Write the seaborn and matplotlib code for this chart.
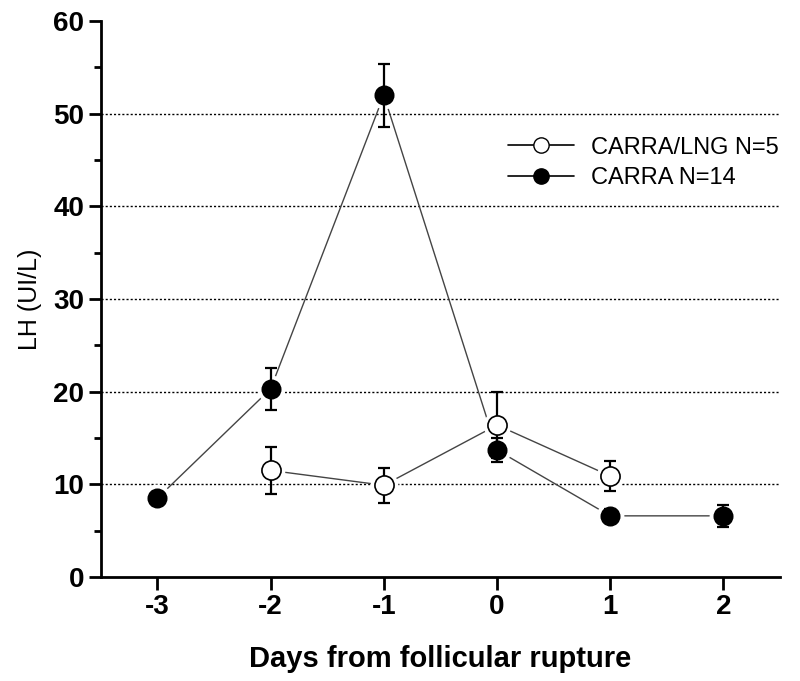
import matplotlib
matplotlib.use("Agg")
import matplotlib.pyplot as plt
import seaborn as sns
import pandas as pd
import numpy as np
from matplotlib.ticker import MultipleLocator
from matplotlib.lines import Line2D

# Data
days_carra = [-3, -2, -1, 0, 1, 2]
lh_carra = [8.5, 20.3, 52.0, 13.7, 6.6, 6.6]
err_carra = [0.7, 2.3, 3.4, 1.3, 0.7, 1.2]

days_lng = [-2, -1, 0, 1]
lh_lng = [11.5, 9.9, 16.4, 10.9]
err_lng = [2.5, 1.9, 3.6, 1.6]

label_lng = "CARRA/LNG N=5"
label_carra = "CARRA N=14"

sns.set_theme(style="ticks")
plt.rcParams['font.family'] = ['Liberation Sans', 'DejaVu Sans']
plt.rcParams['axes.unicode_minus'] = False
plt.rcParams['text.color'] = 'black'
plt.rcParams['axes.labelcolor'] = 'black'
plt.rcParams['xtick.color'] = 'black'
plt.rcParams['ytick.color'] = 'black'

df = pd.concat([
    pd.DataFrame({"day": days_carra, "lh": lh_carra, "group": label_carra}),
    pd.DataFrame({"day": days_lng, "lh": lh_lng, "group": label_lng}),
])

fig = plt.figure(figsize=(8, 6.81), dpi=100)
ax = fig.add_axes([0.126, 0.1527, 0.849, 0.8165])

# grid lines
for yv in [10, 20, 30, 40, 50]:
    ax.axhline(yv, color="black", linestyle=(0, (1.5, 1.5)), linewidth=1.0, zorder=1)

# connecting lines
sns.lineplot(data=df, x="day", y="lh", hue="group", palette={label_carra: "#444444", label_lng: "#444444"},
             linewidth=1.0, legend=False, ax=ax, zorder=2, estimator=None, sort=True)

# white halos to create gaps
ax.plot(days_carra, lh_carra, linestyle="none", marker="o", markersize=19, color="white", zorder=3)
ax.plot(days_lng, lh_lng, linestyle="none", marker="o", markersize=19, color="white", zorder=3)

# error bars
ax.errorbar(days_carra, lh_carra, yerr=err_carra, fmt="none", ecolor="black", elinewidth=1.6,
            capsize=4, capthick=1.6, zorder=4)
ax.errorbar(days_lng, lh_lng, yerr=err_lng, fmt="none", ecolor="black", elinewidth=1.6,
            capsize=4, capthick=1.6, zorder=4)

# markers
sns.scatterplot(x=days_carra, y=lh_carra, marker="o", s=175, color="black", edgecolor="black",
                linewidth=1.2, ax=ax, zorder=5)
sns.scatterplot(x=days_lng, y=lh_lng, marker="o", s=190, color="white", edgecolor="black",
                linewidth=1.2, ax=ax, zorder=5)

ax.set_xlim(-3.5, 2.5)
ax.set_ylim(0, 60)
ax.set_xticks([-3, -2, -1, 0, 1, 2])
ax.yaxis.set_major_locator(MultipleLocator(10))
ax.yaxis.set_minor_locator(MultipleLocator(5))

for s in ["top", "right"]:
    ax.spines[s].set_visible(False)
for s in ["left", "bottom"]:
    ax.spines[s].set_linewidth(2)
    ax.spines[s].set_color("black")

ax.tick_params(axis="both", which="major", length=9, width=2, direction="out", labelsize=20, pad=3,
               colors="black", labelcolor="black")
ax.tick_params(axis="y", which="minor", length=5, width=2, direction="out", colors="black")
for lbl in ax.get_xticklabels() + ax.get_yticklabels():
    lbl.set_fontweight("bold")

ax.set_xlabel("Days from follicular rupture", fontsize=21, fontweight="bold", labelpad=18, color="black")
ax.set_ylabel("LH (UI/L)", fontsize=18, labelpad=8, color="black")

handles = [
    Line2D([0], [0], color="black", linewidth=1.2, marker="o", markersize=11,
           markerfacecolor="white", markeredgecolor="black"),
    Line2D([0], [0], color="black", linewidth=1.2, marker="o", markersize=11,
           markerfacecolor="black", markeredgecolor="black"),
]
leg = ax.legend(handles, [label_lng, label_carra], loc="center left", bbox_to_anchor=(0.599, 0.745),
                frameon=False, fontsize=17, handlelength=2.8, handletextpad=0.75, labelspacing=0.35,
                borderpad=0, borderaxespad=0)
for t in leg.get_texts():
    t.set_color("black")

fig.savefig("out.png", dpi=100)
